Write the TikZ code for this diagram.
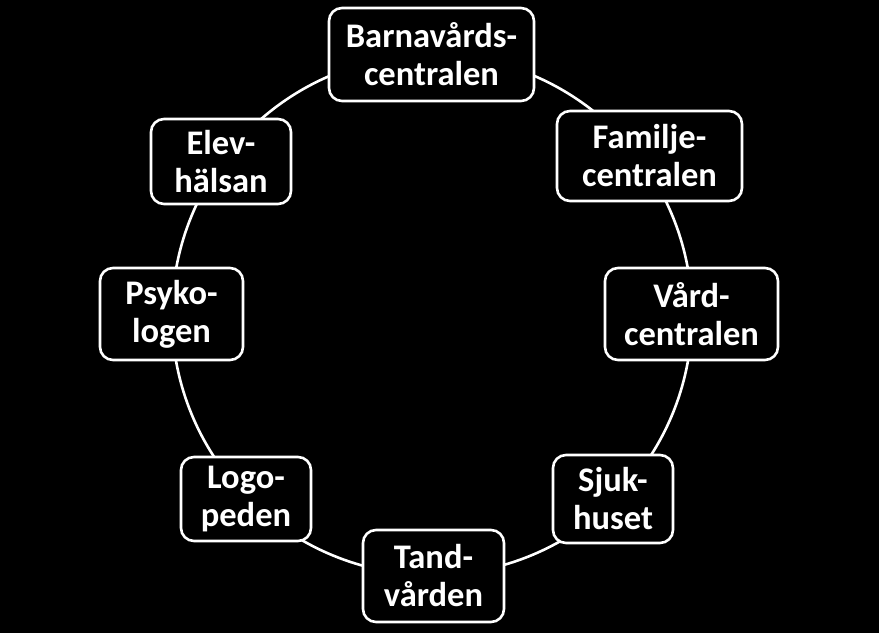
\documentclass[tikz,border=0pt]{standalone}
\usepackage{fontspec}
\setmainfont{Carlito}
\begin{document}
\begin{tikzpicture}[x=1pt,y=1pt,
  box/.style={draw=white, line width=2.6pt, fill=black, rounded corners=13pt,
    text=white, font=\bfseries\fontsize{34.5}{38}\selectfont, align=center, inner sep=0pt},
  ring/.style={draw=white, line width=2.6pt}]
\fill[black] (0,0) rectangle (879,633);
\useasboundingbox (0,0) rectangle (879,633);
\coordinate (c) at (432,318);
\draw[ring] (c) circle (260);
\node[box, minimum width=205, minimum height=93] (barn) at (431.5,578.5) {Barnavårds-\\centralen};
\node[box, minimum width=185, minimum height=90] (fam) at (649.5,477) {Familje-\\centralen};
\node[box, minimum width=173, minimum height=92] (vard) at (691.5,319) {Vård-\\centralen};
\node[box, minimum width=120, minimum height=88] (sjuk) at (613,134) {Sjuk-\\huset};
\node[box, minimum width=141, minimum height=92] (tand) at (433.5,57) {Tand-\\vården};
\node[box, minimum width=130, minimum height=84] (logo) at (246,134) {Logo-\\peden};
\node[box, minimum width=143, minimum height=92] (psyk) at (171.5,319) {Psyko-\\logen};
\node[box, minimum width=140, minimum height=85] (elev) at (221,471.5) {Elev-\\hälsan};
\end{tikzpicture}
\end{document}
